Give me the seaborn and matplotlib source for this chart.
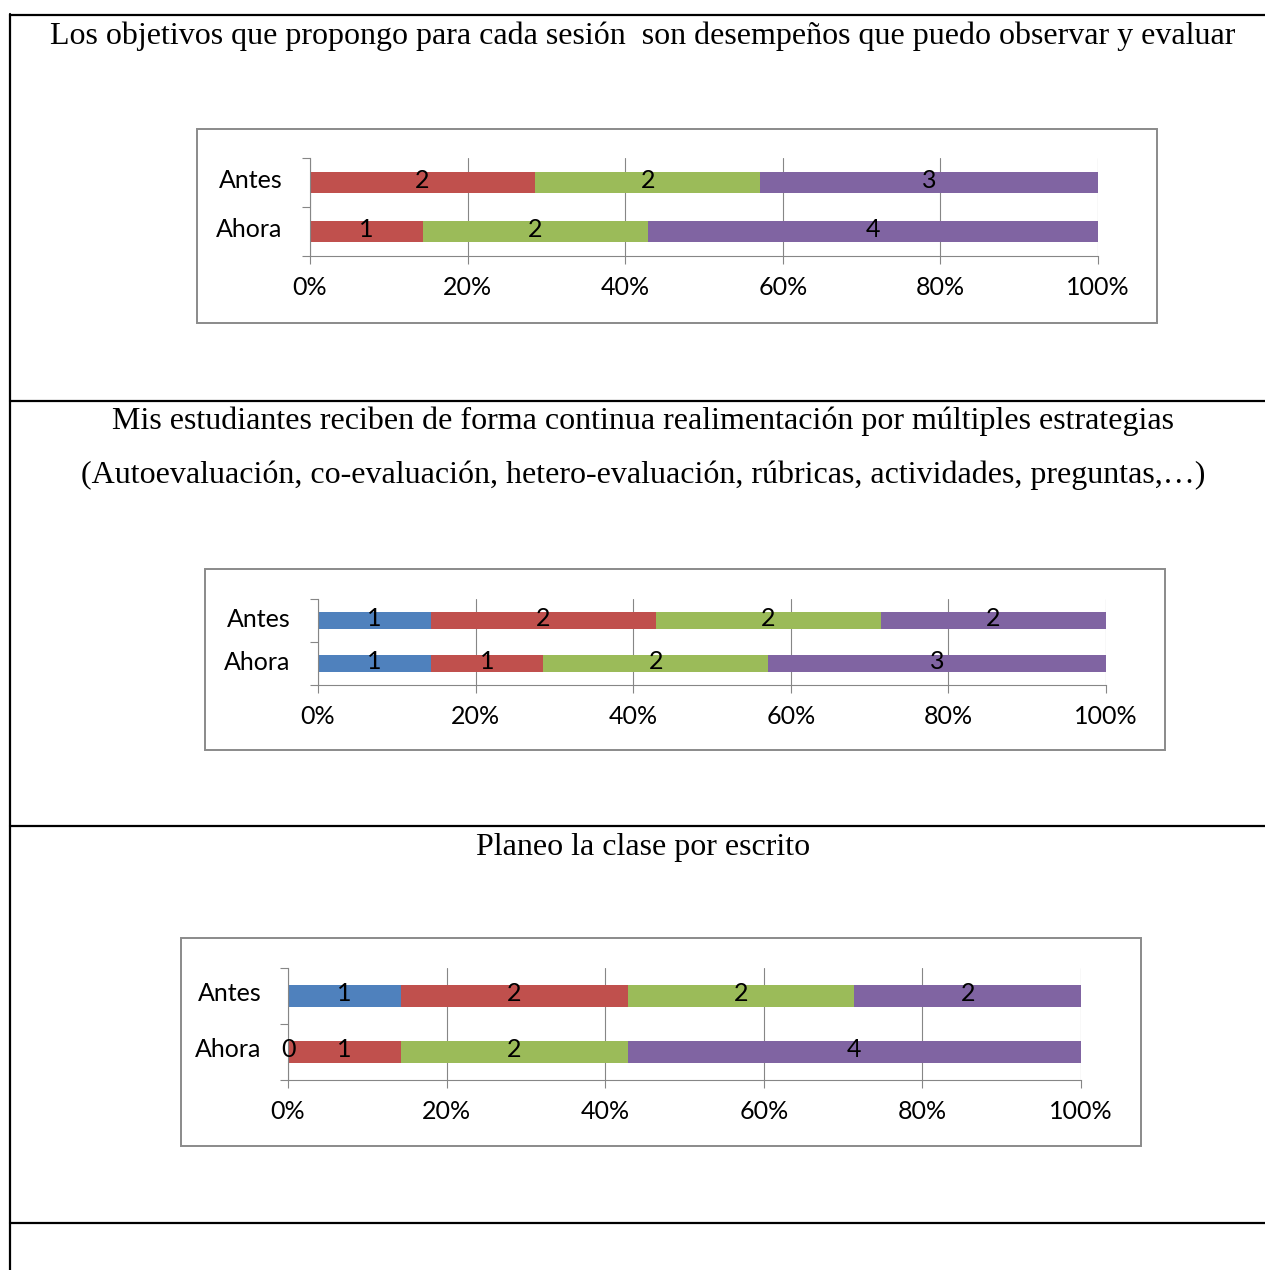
import numpy as np
import pandas as pd
import matplotlib
matplotlib.use("Agg")
import matplotlib.pyplot as plt
import seaborn as sns
from matplotlib.patches import Rectangle
from matplotlib.lines import Line2D

W, H = 1265, 1270
DPI = 100

# ---------------- data ----------------
categories = ["Antes", "Ahora"]
series_colors = ["#4F81BD", "#C0504D", "#9BBB59", "#8064A2"]
x_ticks = [0, 20, 40, 60, 80, 100]
x_ticklabels = ["0%", "20%", "40%", "60%", "80%", "100%"]

title1 = ["Los objetivos que propongo para cada sesión  son desempeños que puedo observar y evaluar"]
c1_blue = [None, None]
c1_red = [2, 1]
c1_green = [2, 2]
c1_purple = [3, 4]

title2 = ["Mis estudiantes reciben de forma continua realimentación por múltiples estrategias",
          "(Autoevaluación, co-evaluación, hetero-evaluación, rúbricas, actividades, preguntas,…)"]
c2_blue = [1, 1]
c2_red = [2, 1]
c2_green = [2, 2]
c2_purple = [2, 3]

title3 = ["Planeo la clase por escrito"]
c3_blue = [1, 0]
c3_red = [2, 1]
c3_green = [2, 2]
c3_purple = [2, 4]

# ---------------- style ----------------
sns.set_theme(style="white")
plt.rcParams["font.family"] = ["Lato", "DejaVu Sans"]
plt.rcParams["text.color"] = "black"
plt.rcParams["xtick.labelcolor"] = "black"
plt.rcParams["ytick.labelcolor"] = "black"
GRAY = "#868686"
CHART_FS = 18
TITLE_FS = 23

fig = plt.figure(figsize=(W / DPI, H / DPI), dpi=DPI)
fig.patch.set_facecolor("white")


def px2fig(x, y):
    return x / W, 1 - y / H


def draw_chart(box, plot, series, titles, title_baselines, label_pad):
    # outer chart box
    bx0, by0, bx1, by1 = box
    fx, fy = px2fig(bx0, by1)
    fig.patches.append(Rectangle((fx, fy), (bx1 - bx0) / W, (by1 - by0) / H,
                                 transform=fig.transFigure, fill=False,
                                 edgecolor="#8A8A8A", linewidth=1.4, zorder=0))
    # titles
    for t, yb in zip(titles, title_baselines):
        fig.text(643 / W, 1 - yb / H, t, ha="center", va="baseline", color="black",
                 fontsize=TITLE_FS, family=["Liberation Serif", "DejaVu Serif"])

    px0, py0, px1, py1 = plot
    ax = fig.add_axes([px0 / W, 1 - py1 / H, (px1 - px0) / W, (py1 - py0) / H])
    vals = np.array([[np.nan if v is None else v for v in s] for s in series], float)
    filled = np.nan_to_num(vals)
    totals = filled.sum(axis=0)
    pct = filled / totals * 100
    cum = np.cumsum(pct, axis=0)

    ax.set_axisbelow(True)
    for i in reversed(range(len(series))):
        df = pd.DataFrame({"cat": categories, "val": cum[i]})
        sns.barplot(data=df, x="val", y="cat", order=categories, orient="h",
                    color=series_colors[i], saturation=1, width=0.41, ax=ax,
                    linewidth=0, errorbar=None)
    for i in range(len(series)):
        for j in range(len(categories)):
            if np.isnan(vals[i, j]):
                continue
            ax.text(cum[i, j] - pct[i, j] / 2, j - 0.04, f"{int(vals[i, j])}",
                    ha="center", va="center", fontsize=CHART_FS, color="black", zorder=5)

    ax.set_xlim(0, 100)
    ax.set_ylim(1.5, -0.5)
    ax.set_xlabel("")
    ax.set_ylabel("")
    ax.set_xticks(x_ticks)
    ax.set_xticklabels(x_ticklabels, fontsize=CHART_FS)
    ax.set_yticks([-0.5, 0.5, 1.5])
    ax.set_yticklabels([])
    ax.set_yticks([-0.08, 0.92], minor=True)
    ax.set_yticklabels(categories, minor=True, fontsize=CHART_FS)
    ax.tick_params(axis="x", direction="out", length=5.8, width=0.8, color=GRAY,
                   pad=8.5, bottom=True, labelcolor="black")
    ax.tick_params(axis="y", which="major", direction="out", length=5.8, width=0.8,
                   color=GRAY, left=True)
    ax.tick_params(axis="y", which="minor", length=0, pad=label_pad, left=True,
                   labelcolor="black")
    ax.grid(axis="x", color=GRAY, linewidth=0.8)
    ax.grid(axis="y", visible=False)
    for s in ["top", "right"]:
        ax.spines[s].set_visible(False)
    for s in ["left", "bottom"]:
        ax.spines[s].set_color(GRAY)
        ax.spines[s].set_linewidth(0.8)
    ax.patch.set_alpha(0)
    return ax


draw_chart((197, 129, 1157, 323), (310, 158, 1098, 256),
           [c1_blue, c1_red, c1_green, c1_purple], title1, [44], 20)
draw_chart((205, 569, 1165, 750), (318, 599, 1106, 685),
           [c2_blue, c2_red, c2_green, c2_purple], title2, [429, 483], 20)
draw_chart((181, 938, 1141, 1146), (288, 968, 1081, 1080),
           [c3_blue, c3_red, c3_green, c3_purple], title3, [855], 19)

# table lines
def hline(y, x0=10, x1=W):
    fig.lines.append(Line2D([x0 / W, x1 / W], [1 - y / H, 1 - y / H],
                            transform=fig.transFigure, color="black", linewidth=1.6))

def vline(x, y0, y1):
    fig.lines.append(Line2D([x / W, x / W], [1 - y0 / H, 1 - y1 / H],
                            transform=fig.transFigure, color="black", linewidth=1.6))

hline(15)
hline(401)
hline(826)
hline(1222.5)
vline(10, 14, H)

fig.savefig("out.png", dpi=DPI, facecolor="white")
